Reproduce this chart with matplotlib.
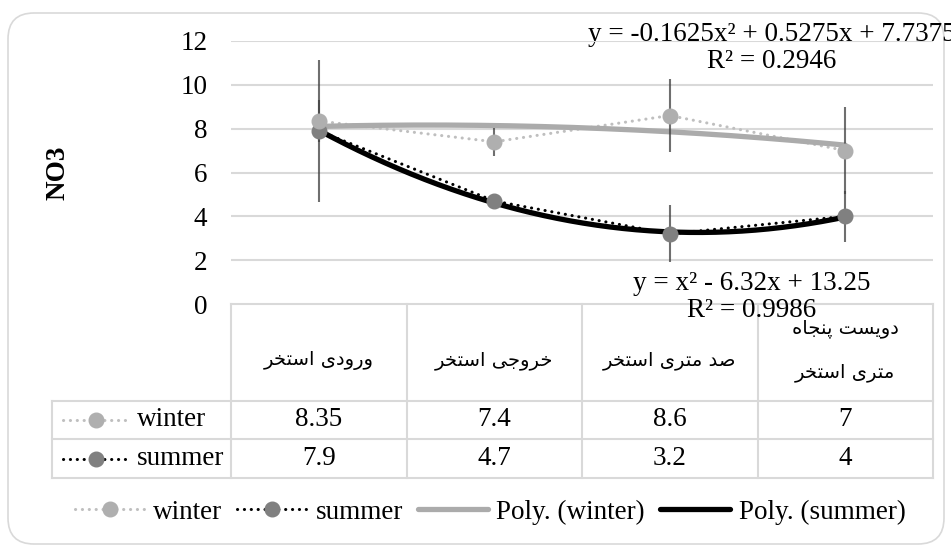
import numpy as np
import matplotlib.pyplot as plt
from matplotlib.lines import Line2D
from matplotlib.patches import FancyBboxPatch

# NO3 at four sampling points, winter vs summer
categories = ["ورودی استخر", "خروجی استخر", "صد متری استخر", "دویست پنجاه\nمتری استخر"]
series_names = ["winter", "summer"]
winter = [8.35, 7.4, 8.6, 7]
summer = [7.9, 4.7, 3.2, 4]
winter_err = [0.95, 0.65, 1.65, 2.0]
summer_err = [3.25, 0.15, 1.3, 1.15]
y_ticks = [0, 2, 4, 6, 8, 10, 12]

SERIF = "Liberation Serif"
FS = 19.5

# --- minimal Persian shaping (matplotlib has no bidi / joining support) ---
FORMS = {
    "ا": ("\uFE8D", "\uFE8E", "\uFE8D", "\uFE8E"),
    "د": ("\uFEA9", "\uFEAA", "\uFEA9", "\uFEAA"),
    "ر": ("\uFEAD", "\uFEAE", "\uFEAD", "\uFEAE"),
    "و": ("\uFEED", "\uFEEE", "\uFEED", "\uFEEE"),
    "ت": ("\uFE95", "\uFE96", "\uFE97", "\uFE98"),
    "س": ("\uFEB1", "\uFEB2", "\uFEB3", "\uFEB4"),
    "خ": ("\uFEA5", "\uFEA6", "\uFEA7", "\uFEA8"),
    "ج": ("\uFE9D", "\uFE9E", "\uFE9F", "\uFEA0"),
    "ص": ("\uFEB9", "\uFEBA", "\uFEBB", "\uFEBC"),
    "م": ("\uFEE1", "\uFEE2", "\uFEE3", "\uFEE4"),
    "ن": ("\uFEE5", "\uFEE6", "\uFEE7", "\uFEE8"),
    "ه": ("\uFEE9", "\uFEEA", "\uFEEB", "\uFEEC"),
    "پ": ("\uFB56", "\uFB57", "\uFB58", "\uFB59"),
    "ی": ("\uFBFC", "\uFBFD", "\uFBFE", "\uFBFF"),
}
RIGHT_ONLY = set("اآدذرزژو")


def shape_line(text):
    out = []
    for i, ch in enumerate(text):
        if ch not in FORMS:
            out.append(ch)
            continue
        prev = text[i - 1] if i > 0 else ""
        nxt = text[i + 1] if i + 1 < len(text) else ""
        jp = prev in FORMS and prev not in RIGHT_ONLY
        jn = nxt in FORMS and ch not in RIGHT_ONLY
        iso, fin, ini, med = FORMS[ch]
        out.append(med if jp and jn else fin if jp else ini if jn else iso)
    return "".join(out)[::-1]


def poly_label(coefs):
    parts = []
    for c, suffix in zip(coefs, ["x²", "x", ""]):
        c = round(c, 4)
        mag = f"{abs(c):g}"
        if suffix and mag == "1":
            mag = ""
        if not parts:
            parts.append(("-" if c < 0 else "") + mag + suffix)
        else:
            parts.append(("- " if c < 0 else "+ ") + mag + suffix)
    return "y = " + " ".join(parts)


def r_squared(coefs, x, y):
    y = np.asarray(y)
    res = y - np.polyval(coefs, x)
    return 1 - np.sum(res ** 2) / np.sum((y - y.mean()) ** 2)


W, H = 951, 546
fig = plt.figure(figsize=(W / 100, H / 100), dpi=100)

# full-figure axes in pixel units for frame, table and labels
bg = fig.add_axes([0, 0, 1, 1])
bg.set_xlim(0, W)
bg.set_ylim(H, 0)
bg.axis("off")
bg.add_patch(FancyBboxPatch((8, 13), 936, 531, boxstyle="round,pad=0,rounding_size=26",
                            fc="white", ec="#D9D9D9", lw=1.2))

# plot area
px0, px1, py_top, py0 = 231, 933, 41, 304
ax = fig.add_axes([px0 / W, 1 - py0 / H, (px1 - px0) / W, (py0 - py_top) / H])
ax.set_facecolor("none")
n = len(categories)
x = np.arange(1, n + 1)
ax.set_xlim(0.5, n + 0.5)
ax.set_ylim(0, 12)
ax.set_yticks(y_ticks)
ax.set_yticklabels([str(t) for t in y_ticks], fontfamily=SERIF, fontsize=FS)
ax.tick_params(axis="y", length=0, pad=17)
ax.set_xticks([])
for s in ax.spines.values():
    s.set_visible(False)
for t in y_ticks[1:]:
    ax.axhline(t, color="#D9D9D9", lw=1.5, zorder=0)

DOTS = (0, (0.05, 2.2))
styles = {
    "winter": dict(line="#BFBFBF", marker="#AFAFAF", trend="#ABABAB"),
    "summer": dict(line="#000000", marker="#808080", trend="#000000"),
}
data = {"winter": (winter, winter_err), "summer": (summer, summer_err)}
label_pos = {"winter": (772, 48), "summer": (752, 297)}

for name in series_names:
    vals, err = data[name]
    st = styles[name]
    ax.plot(x, vals, color=st["line"], lw=2.2, linestyle=DOTS,
            dash_capstyle="round", zorder=2)
    coefs = np.polyfit(x, vals, 2)
    xx = np.linspace(1, n, 200)
    ax.plot(xx, np.polyval(coefs, xx), color=st["trend"], lw=3.8,
            solid_capstyle="round", zorder=3)
    ax.errorbar(x, vals, yerr=err, fmt="none", ecolor="#3F3F3F", alpha=0.75,
                elinewidth=1.5, capsize=0, zorder=4)
    ax.plot(x, vals, linestyle="none", marker="o", ms=10.5, mfc=st["marker"],
            mec=st["marker"], zorder=5 if name == "summer" else 6)

    lab = poly_label(coefs) + "\nR² = " + f"{r_squared(coefs, x, vals):.4f}"
    bg.text(*label_pos[name], lab, ha="center", va="center", fontfamily=SERIF,
            fontsize=FS, linespacing=1.12, zorder=6)

# y-axis title
bg.text(58, 173, "NO3", rotation=90, ha="center", va="center", fontfamily=SERIF,
        fontsize=19.5, fontweight="bold")

# data table under the plot
grid_c = "#D9D9D9"
edges = np.linspace(px0, px1, n + 1)
t_head, t_r1, t_r2, t_bot, t_left = 304, 401, 439, 478, 52
bg.plot([px0, px1], [t_head, t_head], color=grid_c, lw=1.5)
for yy in (t_r1, t_r2, t_bot):
    bg.plot([t_left, px1], [yy, yy], color=grid_c, lw=1.5)
for xe in edges:
    bg.plot([xe, xe], [t_head, t_bot], color=grid_c, lw=1.5)
bg.plot([t_left, t_left], [t_r1, t_bot], color=grid_c, lw=1.5)

centers = (edges[:-1] + edges[1:]) / 2
for cx, cat in zip(centers, categories):
    lines = cat.split("\n")
    ys = [360] if len(lines) == 1 else [328, 372]
    for yy, ln in zip(ys, lines):
        bg.text(cx, yy, shape_line(ln), ha="center", va="center",
                fontfamily="DejaVu Sans", fontsize=14)

for row_y, name in zip(((t_r1 + t_r2) / 2, (t_r2 + t_bot) / 2), series_names):
    vals = data[name][0]
    st = styles[name]
    for cx, v in zip(centers, vals):
        bg.text(cx, row_y, f"{v:g}", ha="center", va="center", fontfamily=SERIF, fontsize=FS)
    bg.plot([63, 128], [row_y, row_y], color=st["line"], lw=2.2, linestyle=DOTS,
            dash_capstyle="round")
    bg.plot([96], [row_y], marker="o", ms=10.5, mfc=st["marker"], mec=st["marker"])
    bg.text(137, row_y, name, ha="left", va="center", fontfamily=SERIF, fontsize=FS)

# legend along the bottom
handles = [
    Line2D([], [], color=styles["winter"]["line"], lw=2.2, linestyle=DOTS,
           dash_capstyle="round", marker="o", ms=10.5, mfc=styles["winter"]["marker"],
           mec=styles["winter"]["marker"]),
    Line2D([], [], color=styles["summer"]["line"], lw=2.2, linestyle=DOTS,
           dash_capstyle="round", marker="o", ms=10.5, mfc=styles["summer"]["marker"],
           mec=styles["summer"]["marker"]),
    Line2D([], [], color=styles["winter"]["trend"], lw=3.8, solid_capstyle="round"),
    Line2D([], [], color=styles["summer"]["trend"], lw=3.8, solid_capstyle="round"),
]
labels = ["winter", "summer", "Poly. (winter)", "Poly. (summer)"]
fig.legend(handles, labels, loc="center", bbox_to_anchor=(490 / W, 1 - 512 / H), ncol=4,
           frameon=False, prop={"family": SERIF, "size": FS}, handlelength=2.6,
           handletextpad=0.3, columnspacing=0.55, borderaxespad=0, borderpad=0)

fig.savefig("out.png", dpi=100)
